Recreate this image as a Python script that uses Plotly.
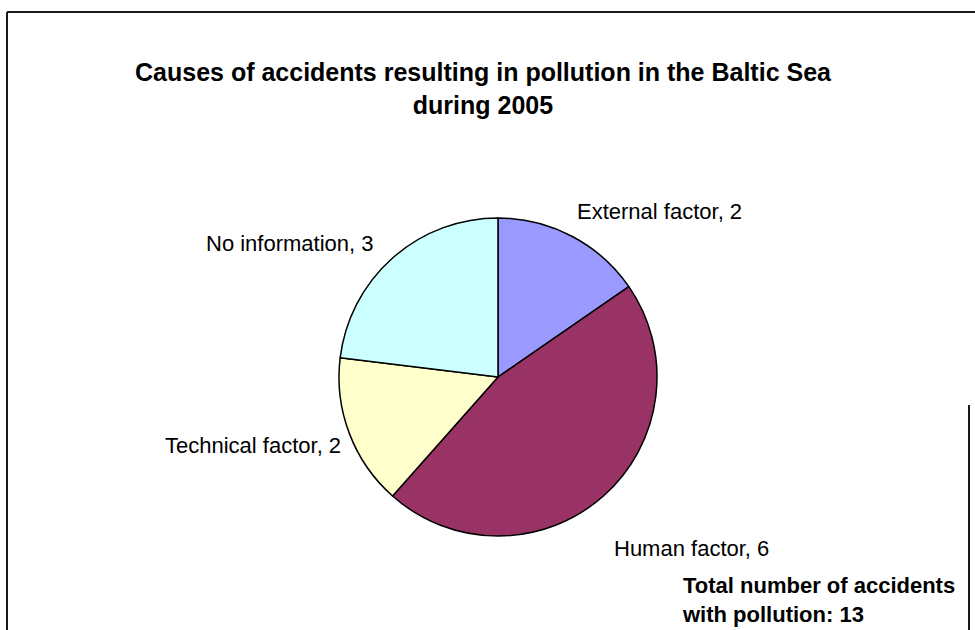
import math
import plotly.graph_objects as go

# ---- data ----
categories = ["External factor", "Human factor", "Technical factor", "No information"]
counts = [2, 6, 2, 3]
colors = ["#9999FF", "#993366", "#FFFFCC", "#CCFFFF"]
title_lines = ["Causes of accidents resulting in pollution in the Baltic Sea", "during 2005"]
footnote_lines = ["Total number of accidents", "with pollution: 13"]

# ---- layout constants (pixels) ----
W, H = 975, 630
PIE_CX, PIE_CY, PIE_R = 498, 377, 159
# nudge of each label anchor away from the slice's mid-arc point (px, screen coords)
label_nudge = [(3, -10), (9, 38), (-6, -2), (-17, 0)]
FONT = "Arial, Liberation Sans, sans-serif"


def px(x):
    return x / W


def py(y):
    return 1 - y / H


fig = go.Figure(go.Pie(
    labels=categories,
    values=counts,
    sort=False,
    direction="clockwise",
    rotation=0,
    marker=dict(colors=colors, line=dict(color="#000000", width=1.5)),
    textinfo="none",
    hoverinfo="label+value",
    showlegend=False,
    domain=dict(x=[px(PIE_CX - PIE_R), px(PIE_CX + PIE_R)],
                y=[py(PIE_CY + PIE_R), py(PIE_CY - PIE_R)]),
))

annotations = []
total = sum(counts)
cum = 0
for name, v, (ndx, ndy) in zip(categories, counts, label_nudge):
    mid = 2 * math.pi * (cum + v / 2) / total
    cum += v
    ax = PIE_CX + PIE_R * math.sin(mid) + ndx
    ay = PIE_CY - PIE_R * math.cos(mid) + ndy
    annotations.append(dict(
        x=px(ax), y=py(ay), xref="paper", yref="paper",
        text=f"{name}, {v}", showarrow=False,
        xanchor="left" if math.sin(mid) >= 0 else "right",
        yanchor="bottom" if math.cos(mid) > 0 else "top",
        font=dict(family=FONT, size=22, color="#000000"),
    ))

# title
annotations.append(dict(
    x=px(483), y=py(89), xref="paper", yref="paper",
    text="<b>" + "<br>".join(title_lines) + "</b>", showarrow=False,
    xanchor="center", yanchor="middle", align="center",
    font=dict(family=FONT, size=25, color="#000000"),
))

# footnote
annotations.append(dict(
    x=px(680), y=py(600), xref="paper", yref="paper",
    text="<b>" + "<br>".join(footnote_lines) + "</b>", showarrow=False,
    xanchor="left", yanchor="middle", align="left",
    font=dict(family=FONT, size=22, color="#000000"),
))

shapes = [
    dict(type="line", xref="paper", yref="paper", x0=px(7), x1=px(975), y0=py(12), y1=py(12),
         line=dict(color="#1a1a1a", width=2)),
    dict(type="line", xref="paper", yref="paper", x0=px(7), x1=px(7), y0=py(12), y1=py(630),
         line=dict(color="#1a1a1a", width=2)),
    dict(type="line", xref="paper", yref="paper", x0=px(969), x1=px(969), y0=py(405), y1=py(630),
         line=dict(color="#1a1a1a", width=2)),
]

fig.update_layout(
    width=W, height=H,
    margin=dict(l=0, r=0, t=0, b=0),
    paper_bgcolor="#FFFFFF", plot_bgcolor="#FFFFFF",
    annotations=annotations,
    shapes=shapes,
)

fig.write_html("out.html")
